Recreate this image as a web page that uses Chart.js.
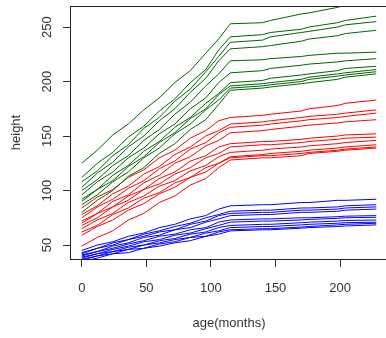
<!DOCTYPE html>
<html>
<head>
<meta charset="utf-8">
<script src="https://cdn.jsdelivr.net/npm/chart.js@4"></script>
<style>
html,body{margin:0;padding:0;background:#fff;overflow:hidden;width:386px;height:338px;}
#wrap{position:absolute;left:0;top:0;width:400px;height:338px;}
</style>
</head>
<body>
<div id="wrap"><canvas id="c" width="400" height="338"></canvas></div>
<script>
// ages (months) at which heights are read
const ages = [0, 12, 24, 36, 48, 60, 72, 84, 96, 106, 115, 140, 146, 170, 176, 198, 204, 228];
const xTicks = [0, 50, 100, 150, 200];
const yTicks = [50, 100, 150, 200, 250];

// green group
const g1  = [125,137,151,161,174,185,199,210,226,239,253, 254,256,262,263,268,270,276];
const g2  = [112,125,135,149,159,173,184,199,211,229,241, 243,245,248,250,254,256,260];
const g3  = [108,118,132,142,157,167,182,193,209,223,236, 238,241,245,246,250,252,255];
const g4  = [103,116,126,140,150,164,175,190,203,219,230, 232,233,237,239,242,244,247];
const g5  = [100,110,123,132,146,156,170,181,196,207,219, 220,221,223,224,226,226,227];
const g6  = [96,108,117,130,139,152,161,175,185,199,208, 210,212,215,216,218,219,221];
const g7  = [92,101,114,123,136,145,158,167,180,189,199, 201,203,206,207,210,212,214];
const g8  = [90,101,109,122,131,144,153,166,175,188,196, 198,199,202,204,207,208,211];
const g9  = [87,96,108,117,130,139,152,161,174,183,194, 196,197,200,202,205,206,209];
const g10 = [80,91,100,113,121,134,143,156,165,179,192, 194,195,198,199,202,204,207];

// red group
const r1  = [84,94,101,112,119,130,137,148,155,164,167, 169,170,173,175,178,180,183];
const r2  = [78,86,97,104,115,122,133,140,150,155,161, 163,164,167,168,170,171,174];
const r3  = [75,85,92,102,109,120,127,138,144,153,158, 160,161,164,165,167,168,171];
const r4  = [72,79,90,96,107,114,125,131,141,146,153, 155,156,159,160,162,163,165];
const r5  = [70,79,85,95,101,111,117,127,132,140,143, 145,145,147,148,150,151,152];
const r6  = [68,75,85,91,101,106,115,121,130,134,140, 142,142,144,145,147,148,149];
const r7  = [65,73,79,89,95,104,109,118,123,131,135, 137,138,140,141,143,144,146];
const r8  = [62,68,78,84,93,98,107,112,121,125,131, 133,134,136,137,139,140,142];
const r9  = [59,67,73,82,88,97,103,112,117,125,130, 132,132,134,135,137,138,140];
const r10 = [49,57,63,73,79,89,95,105,111,121,128, 130,130,132,134,136,137,139];

// blue group
const b1  = [45,50,53,58,61,66,69,74,77,83,86, 87,87,89,89,91,91,92];
const b2  = [43,47,52,55,60,63,67,70,75,78,81, 82,82,84,84,85,86,87];
const b3  = [42,47,50,55,58,62,64,69,72,77,79, 80,80,82,82,83,84,85];
const b4  = [41,44,49,52,57,59,64,66,71,74,77, 78,78,80,80,81,82,83];
const b5  = [40,44,47,51,54,58,60,64,66,71,73, 74,74,75,75,76,76.5,77];
const b6  = [39,42,46,49,53,55,59,61,65,68,71, 72,72,73,73.5,74.5,75,75.5];
const b7  = [38,42,44,48,50,54,56,60,62,66,68, 69,69,70.5,71,72,72.5,73];
const b8  = [37,40,44,46,50,52,55,57,61,63,66, 67,67,68.5,69,70,70.5,71];
const b9  = [36,40,42,46,47,51,53,57,58,62,64, 65,65,66.5,67,68.5,69,70];
const b10 = [35,38,42,43,47,49,52,54,58,60,63, 64,64,65.5,66,67,67.5,68.5];

const greens = [g1,g2,g3,g4,g5,g6,g7,g8,g9,g10];
const reds = [r1,r2,r3,r4,r5,r6,r7,r8,r9,r10];
const blues = [b1,b2,b3,b4,b5,b6,b7,b8,b9,b10];

function mk(vals, color){
  return {data: ages.map((a,i)=>({x:a,y:vals[i]})), borderColor: color, borderWidth: 1,
          pointRadius: 0, tension: 0, fill: false};
}
const datasets = [
  ...greens.map(v=>mk(v,'#006400')),
  ...reds.map(v=>mk(v,'#ff0000')),
  ...blues.map(v=>mk(v,'#0000ff'))
];

const boxPlugin = {
  id:'box',
  afterDraw(chart){
    const {ctx, chartArea:a} = chart;
    ctx.save();
    ctx.strokeStyle = '#222';
    ctx.lineWidth = 1;
    ctx.strokeRect(Math.round(a.left)+0.5, Math.round(a.top)+0.5, Math.round(a.right-a.left), Math.round(a.bottom-a.top));
    ctx.restore();
  }
};

const font = {family: "'Liberation Sans', Arial, sans-serif", size: 13};
new Chart(document.getElementById('c'), {
  type: 'line',
  data: {datasets},
  plugins: [boxPlugin],
  options: {
    responsive: false,
    animation: false,
    events: [],
    layout: {padding: {top: 6, right: 12, left: 0, bottom: 0}},
    plugins: {legend: {display: false}, tooltip: {enabled: false}},
    scales: {
      x: {
        type: 'linear', min: -9.12, max: 237.1,
        afterBuildTicks: s => { s.ticks = xTicks.map(v=>({value:v})); },
        afterFit: s => { s.height = 79; s.paddingLeft = 0; s.paddingRight = 0; },
        grid: {display: true, drawOnChartArea: false, drawTicks: true, tickLength: 8, color: '#333'},
        border: {display: true, color: '#222'},
        ticks: {font, color: '#333', padding: 14, maxRotation: 0, minRotation: 0},
        title: {display: true, text: 'age(months)', font, color: '#333', padding: {top: 0, bottom: 7}}
      },
      y: {
        type: 'linear', min: 37.2, max: 269.3,
        afterBuildTicks: s => { s.ticks = yTicks.map(v=>({value:v})); },
        afterFit: s => { s.width = 70; s.paddingTop = 0; s.paddingBottom = 0; },
        grid: {display: true, drawOnChartArea: false, drawTicks: true, tickLength: 7, color: '#333'},
        border: {display: true, color: '#222'},
        ticks: {font, color: '#333', padding: 5, minRotation: 90, maxRotation: 90, crossAlign: 'center'},
        title: {display: true, text: 'height', font, color: '#333', padding: {top: 9, bottom: 0}}
      }
    }
  }
});
</script>
</body>
</html>
